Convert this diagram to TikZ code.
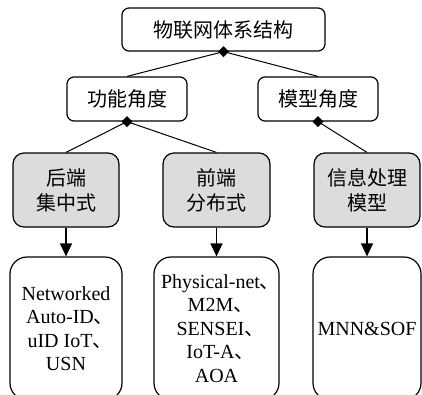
\documentclass[tikz,border=0pt]{standalone}
\usepackage{fontspec}
\setmainfont{Liberation Serif}
\newfontfamily\cjk{Noto Sans CJK SC}
\usetikzlibrary{shapes.geometric,arrows.meta}
\definecolor{boxgray}{RGB}{220,220,220}
\newcommand{\dun}{\makebox[12pt][l]{\cjk 、}}

\begin{document}
\begin{tikzpicture}[x=1pt,y=-1pt,
  level/.style={draw,rounded corners=7pt,line width=1.2pt,inner sep=0pt,align=center,
    font=\cjk\fontsize{20}{25}\selectfont},
  kind/.style={level,fill=boxgray,rounded corners=11pt},
  leaf/.style={draw,rounded corners=17pt,line width=1.2pt,inner sep=0pt,align=center,
    font=\fontsize{20}{23.5}\selectfont},
  joint/.style={diamond,fill,inner sep=0pt,minimum size=11pt},
  link/.style={line width=1pt},
  down/.style={line width=1.2pt,-{Triangle[length=13pt,width=12pt]}}]
\useasboundingbox (0,0) rectangle (422,394);
% boxes
\node[level,minimum width=203pt,minimum height=43pt] (top) at (223.5,29.5) {物联网体系结构};
\node[level,minimum width=120pt,minimum height=44pt] (func) at (127,99) {功能角度};
\node[level,minimum width=120pt,minimum height=44pt] (model) at (318,99) {模型角度};
\node[kind,minimum width=106pt,minimum height=74pt] (back) at (66,190) {后端\\集中式};
\node[kind,minimum width=107pt,minimum height=74pt] (front) at (216.5,190) {前端\\分布式};
\node[kind,minimum width=106pt,minimum height=74pt] (info) at (367,190) {信息处理\\模型};
\node[leaf,minimum width=112pt,minimum height=143pt] (backeg) at (66,328.5)
  {Networked\\Auto-ID\dun\\uID IoT\dun\\USN};
\node[leaf,minimum width=125pt,minimum height=143pt] (fronteg) at (216.5,328.5)
  {Physical-net\dun\\M2M\dun\\SENSEI\dun\\IoT-A\dun\\AOA};
\node[leaf,minimum width=108pt,minimum height=143pt] (infoeg) at (367,328.5) {MNN\&SOF};
% connectors
\draw[link] (top.south) -- (func.north) (top.south) -- (model.north);
\draw[link] (func.south) -- (back.north) (func.south) -- (front.north);
\draw[link] (model.south) -- (info.north);
\node[joint] (jtop) at (top.south) {};
\node[joint] (jfunc) at (func.south) {};
\node[joint] (jmodel) at (model.south) {};
\draw[down] (back) -- (backeg);
\draw[down] (front) -- (fronteg);
\draw[down] (info) -- (infoeg);
\end{tikzpicture}
\end{document}
